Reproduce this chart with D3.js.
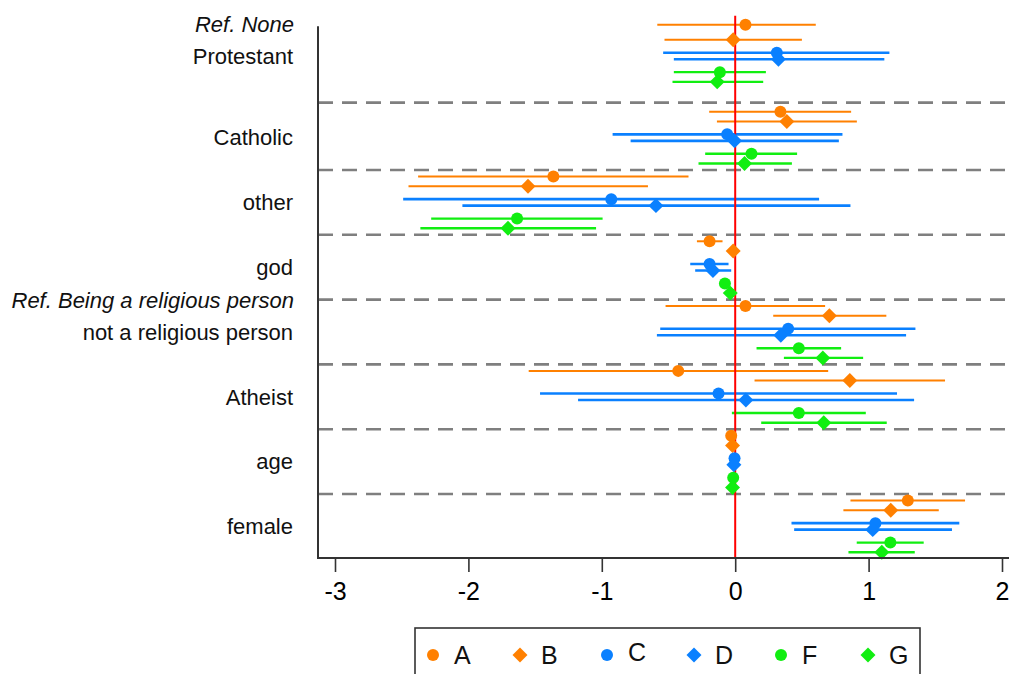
<!DOCTYPE html>
<html>
<head>
  <meta charset="UTF-8">
  <style>
    body { margin: 0; background: #fff; }
    svg { display: block; font-family: "Liberation Sans", Arial, sans-serif; }
  </style>
</head>
<body>
<svg></svg>
<script src="https://d3js.org/d3.v7.min.js"></script>
<script>

// categories (top to bottom) and the six models
const categories = ["Protestant", "Catholic", "other", "god", "not a religious person", "Atheist", "age", "female"];
const headings = ["Ref. None", "", "", "", "Ref. Being a religious person", "", "", ""];
const series = ["A", "B", "C", "D", "F", "G"];
const xTicks = [-3, -2, -1, 0, 1, 2];

// point estimates and confidence bounds, one value per category
const estA = [0.077, 0.339, -1.363, -0.192, 0.077, -0.427, -0.030, 1.294];
const loA  = [-0.584, -0.195, -2.377, -0.287, -0.522, -1.548, -0.040, 0.864];
const hiA  = [0.604, 0.869, -0.350, -0.095, 0.674, 0.697, -0.020, 1.723];

const estB = [-0.015, 0.387, -1.553, -0.015, 0.706, 0.859, -0.020, 1.166];
const loB  = [-0.530, -0.137, -2.449, -0.035, 0.285, 0.145, -0.030, 0.811];
const hiB  = [0.500, 0.912, -0.654, 0.005, 1.133, 1.573, -0.010, 1.526];

const estC = [0.312, -0.060, -0.929, -0.192, 0.397, -0.125, -0.005, 1.051];
const loC  = [-0.540, -0.919, -2.489, -0.337, -0.562, -1.463, -0.012, 0.422];
const hiC  = [1.156, 0.804, 0.629, -0.050, 1.351, 1.213, 0.002, 1.680];

const estD = [0.324, -0.005, -0.594, -0.167, 0.342, 0.080, -0.010, 1.031];
const loD  = [-0.460, -0.784, -2.045, -0.300, -0.587, -1.178, -0.017, 0.442];
const hiD  = [1.118, 0.777, 0.864, -0.030, 1.281, 1.341, -0.003, 1.625];

const estF = [-0.115, 0.122, -1.635, -0.077, 0.477, 0.477, -0.015, 1.163];
const loF  = [-0.460, -0.225, -2.279, -0.100, 0.160, -0.025, -0.022, 0.911];
const hiF  = [0.230, 0.464, -0.994, -0.055, 0.794, 0.979, -0.008, 1.413];

const estG = [-0.135, 0.070, -1.703, -0.037, 0.657, 0.664, -0.020, 1.099];
const loG  = [-0.470, -0.275, -2.360, -0.060, 0.365, 0.195, -0.027, 0.849];
const hiG  = [0.210, 0.425, -1.043, -0.015, 0.959, 1.136, -0.013, 1.346];

const estimates = [estA, estB, estC, estD, estF, estG];
const lows = [loA, loB, loC, loD, loF, loG];
const highs = [hiA, hiB, hiC, hiD, hiF, hiG];

let width = 1009, height = 674;

let svg = d3.select("svg")
    .attr("width", width)
    .attr("height", height);

let colors = ["#ff8000", "#ff8000", "#0a80ff", "#0a80ff", "#11ee11", "#11ee11"];
let shapes = ["circle", "diamond", "circle", "diamond", "circle", "diamond"];
let lineW = [2, 2, 2.6, 2.6, 2.4, 2.4];

// layout: vertical offset of each model inside a category
let rowOffsets = [-0.40, -0.25, -0.05, 0.05, 0.25, 0.40];
let catPos = i => i === 0 ? -0.26 : i;   // the first block sits a bit higher
let rowPos = (i, s) => catPos(i) + ((i === 0 && s === 0) ? -0.48 : rowOffsets[s]);

let x = d3.scaleLinear().domain([-3, 2]).range([335, 1002]);
let y = d3.scaleLinear().domain([1, 7]).range([137.6, 526.4]);

let axisLeft = 318, axisBottom = 558;

// dashed separators
let seps = categories.slice(1).map((c, i) => i === 0 ? 0.46 : i + 0.5);
svg.append("g")
    .selectAll("line")
    .data(seps)
    .enter()
    .append("line")
    .attr("x1", axisLeft)
    .attr("x2", width)
    .attr("y1", d => y(d))
    .attr("y2", d => y(d))
    .attr("stroke", "#7f7f7f")
    .attr("stroke-width", 2.6)
    .attr("stroke-dasharray", "15,9");

// confidence intervals
let rows = [];
series.forEach((s, si) => {
    categories.forEach((c, ci) => {
        rows.push({ s: si, c: ci, est: estimates[si][ci], lo: lows[si][ci], hi: highs[si][ci] });
    });
});

svg.append("g")
    .selectAll("line")
    .data(rows)
    .enter()
    .append("line")
    .attr("x1", d => x(d.lo))
    .attr("x2", d => x(d.hi))
    .attr("y1", d => y(rowPos(d.c, d.s)))
    .attr("y2", d => y(rowPos(d.c, d.s)))
    .attr("stroke", d => colors[d.s])
    .attr("stroke-width", d => lineW[d.s]);

// zero line
svg.append("line")
    .attr("x1", x(0)).attr("x2", x(0))
    .attr("y1", y(-0.88)).attr("y2", axisBottom)
    .attr("stroke", "#ff0000")
    .attr("stroke-width", 2);

let symCircle = d3.symbol().type(d3.symbolCircle).size(Math.PI * 6 * 6);
let symDiamond = d3.symbol().type(d3.symbolSquare).size(112);
let markerPath = k => shapes[k] === "circle" ? symCircle() : symDiamond();
let markerRot = k => shapes[k] === "circle" ? "" : " rotate(45)";

svg.append("g")
    .selectAll("path")
    .data(rows)
    .enter()
    .append("path")
    .attr("d", d => markerPath(d.s))
    .attr("transform", d => "translate(" + x(d.est) + "," + y(rowPos(d.c, d.s)) + ")" + markerRot(d.s))
    .attr("fill", d => colors[d.s]);

// axes
svg.append("line")
    .attr("x1", axisLeft).attr("x2", axisLeft)
    .attr("y1", y(-0.72)).attr("y2", axisBottom + 1)
    .attr("stroke", "#333").attr("stroke-width", 2);

let xAxis = svg.append("g")
    .attr("transform", "translate(0," + axisBottom + ")")
    .call(d3.axisBottom(x).tickValues(xTicks).tickSize(14).tickPadding(10).tickFormat(d3.format("d")));
xAxis.select(".domain")
    .attr("d", "M" + axisLeft + ",0H" + width)
    .attr("stroke", "#333")
    .attr("stroke-width", 2);
xAxis.selectAll(".tick line").attr("stroke", "#333").attr("stroke-width", 1.6);
xAxis.selectAll(".tick text")
    .attr("font-size", 25)
    .attr("font-family", "Liberation Sans, Arial, sans-serif")
    .attr("fill", "#000")
    .text(d => d < 0 ? "-" + Math.abs(d) : d);

// category labels
svg.append("g")
    .selectAll("text")
    .data(categories)
    .enter()
    .append("text")
    .attr("x", 293)
    .attr("y", (d, i) => y(catPos(i)))
    .attr("dy", "0.35em")
    .attr("text-anchor", "end")
    .attr("font-size", 22)
    .attr("fill", "#111")
    .text(d => d);

svg.append("g")
    .selectAll("text")
    .data(headings.map((h, i) => ({ h: h, i: i })).filter(d => d.h !== ""))
    .enter()
    .append("text")
    .attr("x", 294)
    .attr("y", d => y(catPos(d.i) - 0.49))
    .attr("dy", "0.35em")
    .attr("text-anchor", "end")
    .attr("font-size", 22)
    .attr("font-style", "italic")
    .attr("fill", "#111")
    .text(d => d.h);

// legend
let legend = svg.append("g");
legend.append("rect")
    .attr("x", 415).attr("y", 628)
    .attr("width", 505).attr("height", 70)
    .attr("fill", "#fff")
    .attr("stroke", "#333")
    .attr("stroke-width", 1.6);

let item = legend.selectAll("g.item")
    .data(series)
    .enter()
    .append("g")
    .attr("class", "item")
    .attr("transform", (d, i) => "translate(" + (433 + i * 87) + ",655)");

item.append("path")
    .attr("d", (d, i) => markerPath(i))
    .attr("transform", (d, i) => markerRot(i).trim())
    .attr("fill", (d, i) => colors[i]);

item.append("text")
    .attr("x", 21)
    .attr("y", (d, i) => i === 2 ? -3 : 0)
    .attr("dy", "0.36em")
    .attr("font-size", 25)
    .attr("fill", "#111")
    .text(d => d);

</script>
</body>
</html>
